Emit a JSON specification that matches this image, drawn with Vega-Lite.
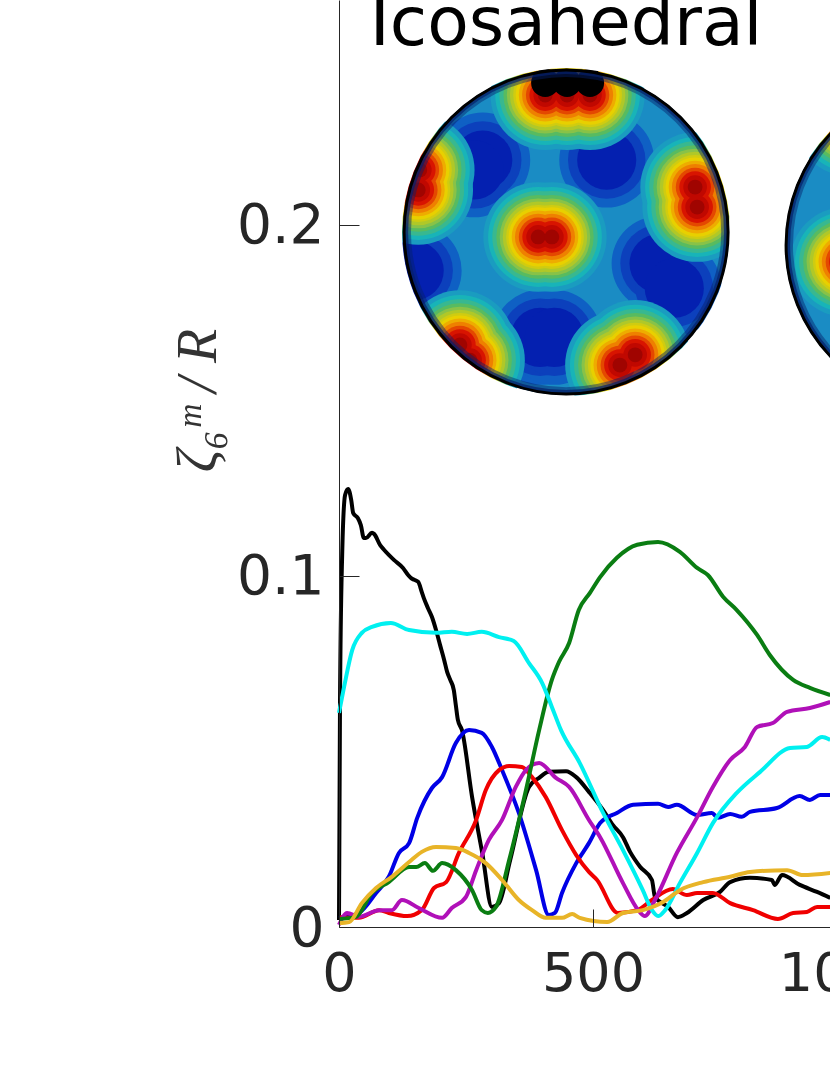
{"$schema":"https://vega.github.io/schema/vega-lite/v6.json","autosize":{"type":"none"},"padding":{"left":339,"top":0,"right":0,"bottom":148},"width":762,"height":927,"background":"white",
"datasets":{
"spheres":[{"sphere":"Icosahedral","t":447,"z":0.198},{"sphere":"second","t":1199,"z":0.1943}],
"low":[{"t":396,"z":0.168},{"t":424,"z":0.168},{"t":283,"z":0.2185},{"t":266,"z":0.2157},{"t":527,"z":0.2185},{"t":630,"z":0.189},{"t":660,"z":0.182},{"t":148,"z":0.187},{"t":1065,"z":0.163}],
"high":[{"t":392,"z":0.1966},{"t":419,"z":0.1966},{"t":701,"z":0.2108},{"t":705,"z":0.2051},{"t":159,"z":0.2157},{"t":156,"z":0.21},{"t":238,"z":0.1658},{"t":258,"z":0.1615},{"t":583,"z":0.163},{"t":553,"z":0.1601},{"t":449,"z":0.237},{"t":406,"z":0.237},{"t":494,"z":0.237},{"t":996,"z":0.1895},{"t":1005,"z":0.2295}],
"cap":[{"t":406,"z":0.2405},{"t":449,"z":0.2405},{"t":494,"z":0.2405}],
"titles":[{"t":447,"z":0.2512,"label":"Icosahedral"}],
"curves":[
{"s":"black","t":0,"z":0.002},{"s":"black","t":2,"z":0.0647},{"s":"black","t":6,"z":0.1046},{"s":"black","t":12,"z":0.1231},{"s":"black","t":18,"z":0.1248},{"s":"black","t":24,"z":0.1217},{"s":"black","t":28,"z":0.1179},{"s":"black","t":37,"z":0.1165},{"s":"black","t":43,"z":0.1145},{"s":"black","t":49,"z":0.1108},{"s":"black","t":53,"z":0.1108},{"s":"black","t":65,"z":0.1123},{"s":"black","t":69,"z":0.112},{"s":"black","t":81,"z":0.1088},{"s":"black","t":89,"z":0.1074},{"s":"black","t":108,"z":0.1046},{"s":"black","t":126,"z":0.1023},{"s":"black","t":136,"z":0.1003},{"s":"black","t":142,"z":0.0994},{"s":"black","t":148,"z":0.0989},{"s":"black","t":156,"z":0.0983},{"s":"black","t":163,"z":0.0954},{"s":"black","t":167,"z":0.0937},{"s":"black","t":175,"z":0.0909},{"s":"black","t":183,"z":0.0883},{"s":"black","t":191,"z":0.0846},{"s":"black","t":199,"z":0.0803},{"s":"black","t":207,"z":0.0761},{"s":"black","t":213,"z":0.0726},{"s":"black","t":219,"z":0.0704},{"s":"black","t":226,"z":0.0675},{"s":"black","t":230,"z":0.0632},{"s":"black","t":234,"z":0.059},{"s":"black","t":242,"z":0.0561},{"s":"black","t":262,"z":0.037},{"s":"black","t":282,"z":0.0211},{"s":"black","t":301,"z":0.0057},{"s":"black","t":315,"z":0.0068},{"s":"black","t":337,"z":0.0191},{"s":"black","t":374,"z":0.0399},{"s":"black","t":394,"z":0.0425},{"s":"black","t":413,"z":0.0442},{"s":"black","t":447,"z":0.0444},{"s":"black","t":467,"z":0.0427},{"s":"black","t":492,"z":0.0385},{"s":"black","t":520,"z":0.0333},{"s":"black","t":539,"z":0.0291},{"s":"black","t":559,"z":0.0256},{"s":"black","t":573,"z":0.0214},{"s":"black","t":593,"z":0.0171},{"s":"black","t":616,"z":0.0134},{"s":"black","t":622,"z":0.0085},{"s":"black","t":648,"z":0.0057},{"s":"black","t":667,"z":0.0028},{"s":"black","t":685,"z":0.004},{"s":"black","t":717,"z":0.0077},{"s":"black","t":750,"z":0.01},{"s":"black","t":770,"z":0.0128},{"s":"black","t":809,"z":0.014},{"s":"black","t":852,"z":0.0134},{"s":"black","t":858,"z":0.012},{"s":"black","t":872,"z":0.0148},{"s":"black","t":907,"z":0.012},{"s":"black","t":941,"z":0.01},{"s":"black","t":967,"z":0.0083},
{"s":"blue","t":0,"z":0.0026},{"s":"blue","t":39,"z":0.004},{"s":"blue","t":73,"z":0.0097},{"s":"blue","t":98,"z":0.0143},{"s":"blue","t":118,"z":0.0211},{"s":"blue","t":138,"z":0.0239},{"s":"blue","t":154,"z":0.0311},{"s":"blue","t":183,"z":0.0396},{"s":"blue","t":203,"z":0.0427},{"s":"blue","t":230,"z":0.0524},{"s":"blue","t":256,"z":0.0561},{"s":"blue","t":281,"z":0.0553},{"s":"blue","t":301,"z":0.0513},{"s":"blue","t":321,"z":0.0447},{"s":"blue","t":354,"z":0.0325},{"s":"blue","t":388,"z":0.0162},{"s":"blue","t":413,"z":0.0034},{"s":"blue","t":425,"z":0.004},{"s":"blue","t":439,"z":0.0097},{"s":"blue","t":467,"z":0.0182},{"s":"blue","t":492,"z":0.0239},{"s":"blue","t":514,"z":0.0296},{"s":"blue","t":547,"z":0.0325},{"s":"blue","t":579,"z":0.0348},{"s":"blue","t":628,"z":0.0351},{"s":"blue","t":648,"z":0.0342},{"s":"blue","t":665,"z":0.0348},{"s":"blue","t":705,"z":0.0319},{"s":"blue","t":734,"z":0.0325},{"s":"blue","t":746,"z":0.0311},{"s":"blue","t":770,"z":0.0322},{"s":"blue","t":793,"z":0.0314},{"s":"blue","t":809,"z":0.0328},{"s":"blue","t":862,"z":0.0339},{"s":"blue","t":907,"z":0.0373},{"s":"blue","t":927,"z":0.0362},{"s":"blue","t":947,"z":0.0376},{"s":"blue","t":967,"z":0.0376},
{"s":"red","t":0,"z":0.0028},{"s":"red","t":39,"z":0.0026},{"s":"red","t":79,"z":0.0048},{"s":"red","t":98,"z":0.004},{"s":"red","t":134,"z":0.0031},{"s":"red","t":163,"z":0.0048},{"s":"red","t":187,"z":0.0111},{"s":"red","t":211,"z":0.0128},{"s":"red","t":236,"z":0.0211},{"s":"red","t":270,"z":0.0305},{"s":"red","t":289,"z":0.039},{"s":"red","t":315,"z":0.0447},{"s":"red","t":335,"z":0.0459},{"s":"red","t":360,"z":0.0456},{"s":"red","t":380,"z":0.0427},{"s":"red","t":407,"z":0.037},{"s":"red","t":439,"z":0.0276},{"s":"red","t":467,"z":0.0205},{"s":"red","t":492,"z":0.0157},{"s":"red","t":508,"z":0.0134},{"s":"red","t":549,"z":0.004},{"s":"red","t":587,"z":0.0048},{"s":"red","t":616,"z":0.0077},{"s":"red","t":657,"z":0.0108},{"s":"red","t":685,"z":0.0091},{"s":"red","t":705,"z":0.0097},{"s":"red","t":736,"z":0.0097},{"s":"red","t":770,"z":0.0068},{"s":"red","t":815,"z":0.0048},{"s":"red","t":864,"z":0.0023},{"s":"red","t":894,"z":0.004},{"s":"red","t":921,"z":0.0043},{"s":"red","t":941,"z":0.0057},{"s":"red","t":967,"z":0.0057},
{"s":"magenta","t":0,"z":0.0006},{"s":"magenta","t":16,"z":0.004},{"s":"magenta","t":39,"z":0.0029},{"s":"magenta","t":79,"z":0.0048},{"s":"magenta","t":104,"z":0.0048},{"s":"magenta","t":124,"z":0.0077},{"s":"magenta","t":157,"z":0.0054},{"s":"magenta","t":203,"z":0.0026},{"s":"magenta","t":222,"z":0.0054},{"s":"magenta","t":250,"z":0.0086},{"s":"magenta","t":270,"z":0.0162},{"s":"magenta","t":295,"z":0.0248},{"s":"magenta","t":321,"z":0.0305},{"s":"magenta","t":348,"z":0.0399},{"s":"magenta","t":368,"z":0.0447},{"s":"magenta","t":394,"z":0.0467},{"s":"magenta","t":427,"z":0.0425},{"s":"magenta","t":453,"z":0.0399},{"s":"magenta","t":492,"z":0.0305},{"s":"magenta","t":514,"z":0.0256},{"s":"magenta","t":559,"z":0.0125},{"s":"magenta","t":589,"z":0.0048},{"s":"magenta","t":602,"z":0.0031},{"s":"magenta","t":622,"z":0.0077},{"s":"magenta","t":665,"z":0.0211},{"s":"magenta","t":705,"z":0.0313},{"s":"magenta","t":736,"z":0.0399},{"s":"magenta","t":770,"z":0.0476},{"s":"magenta","t":799,"z":0.0513},{"s":"magenta","t":823,"z":0.057},{"s":"magenta","t":854,"z":0.0581},{"s":"magenta","t":882,"z":0.0613},{"s":"magenta","t":927,"z":0.0624},{"s":"magenta","t":967,"z":0.0641},
{"s":"green","t":0,"z":0.0023},{"s":"green","t":33,"z":0.0029},{"s":"green","t":65,"z":0.0097},{"s":"green","t":98,"z":0.0128},{"s":"green","t":138,"z":0.0171},{"s":"green","t":152,"z":0.0171},{"s":"green","t":169,"z":0.0182},{"s":"green","t":185,"z":0.016},{"s":"green","t":203,"z":0.0182},{"s":"green","t":230,"z":0.0162},{"s":"green","t":262,"z":0.0105},{"s":"green","t":281,"z":0.0048},{"s":"green","t":293,"z":0.004},{"s":"green","t":309,"z":0.0057},{"s":"green","t":335,"z":0.0191},{"s":"green","t":368,"z":0.039},{"s":"green","t":394,"z":0.0561},{"s":"green","t":419,"z":0.0704},{"s":"green","t":433,"z":0.0755},{"s":"green","t":453,"z":0.0809},{"s":"green","t":472,"z":0.0903},{"s":"green","t":494,"z":0.0952},{"s":"green","t":514,"z":0.0997},{"s":"green","t":547,"z":0.1052},{"s":"green","t":587,"z":0.1089},{"s":"green","t":628,"z":0.1097},{"s":"green","t":671,"z":0.1069},{"s":"green","t":705,"z":0.1023},{"s":"green","t":726,"z":0.1003},{"s":"green","t":756,"z":0.0941},{"s":"green","t":783,"z":0.0903},{"s":"green","t":823,"z":0.0832},{"s":"green","t":848,"z":0.0775},{"s":"green","t":894,"z":0.0704},{"s":"green","t":927,"z":0.0681},{"s":"green","t":967,"z":0.0661},
{"s":"cyan","t":0,"z":0.061},{"s":"cyan","t":10,"z":0.0684},{"s":"cyan","t":26,"z":0.0789},{"s":"cyan","t":45,"z":0.0838},{"s":"cyan","t":65,"z":0.0855},{"s":"cyan","t":102,"z":0.0866},{"s":"cyan","t":138,"z":0.0846},{"s":"cyan","t":191,"z":0.0838},{"s":"cyan","t":222,"z":0.0841},{"s":"cyan","t":252,"z":0.0835},{"s":"cyan","t":281,"z":0.0841},{"s":"cyan","t":315,"z":0.0826},{"s":"cyan","t":344,"z":0.0815},{"s":"cyan","t":374,"z":0.0752},{"s":"cyan","t":400,"z":0.0695},{"s":"cyan","t":419,"z":0.0627},{"s":"cyan","t":437,"z":0.0561},{"s":"cyan","t":474,"z":0.0467},{"s":"cyan","t":520,"z":0.0325},{"s":"cyan","t":559,"z":0.0219},{"s":"cyan","t":598,"z":0.0105},{"s":"cyan","t":616,"z":0.0048},{"s":"cyan","t":628,"z":0.0031},{"s":"cyan","t":642,"z":0.0048},{"s":"cyan","t":671,"z":0.0125},{"s":"cyan","t":705,"z":0.0211},{"s":"cyan","t":736,"z":0.0296},{"s":"cyan","t":783,"z":0.0382},{"s":"cyan","t":829,"z":0.0442},{"s":"cyan","t":888,"z":0.051},{"s":"cyan","t":921,"z":0.0513},{"s":"cyan","t":951,"z":0.0541},{"s":"cyan","t":967,"z":0.0533},
{"s":"gold","t":0,"z":0.0011},{"s":"gold","t":20,"z":0.0014},{"s":"gold","t":45,"z":0.0068},{"s":"gold","t":73,"z":0.0111},{"s":"gold","t":104,"z":0.0143},{"s":"gold","t":138,"z":0.0185},{"s":"gold","t":163,"z":0.0214},{"s":"gold","t":191,"z":0.0228},{"s":"gold","t":230,"z":0.0225},{"s":"gold","t":256,"z":0.0211},{"s":"gold","t":289,"z":0.0182},{"s":"gold","t":321,"z":0.0134},{"s":"gold","t":354,"z":0.0077},{"s":"gold","t":380,"z":0.0048},{"s":"gold","t":407,"z":0.0026},{"s":"gold","t":439,"z":0.0026},{"s":"gold","t":459,"z":0.0037},{"s":"gold","t":474,"z":0.0026},{"s":"gold","t":528,"z":0.0014},{"s":"gold","t":559,"z":0.004},{"s":"gold","t":598,"z":0.0048},{"s":"gold","t":638,"z":0.0071},{"s":"gold","t":671,"z":0.0105},{"s":"gold","t":717,"z":0.0128},{"s":"gold","t":770,"z":0.0143},{"s":"gold","t":809,"z":0.0157},{"s":"gold","t":882,"z":0.0162},{"s":"gold","t":913,"z":0.0148},{"s":"gold","t":967,"z":0.0154}
]},
"encoding":{"x":{"field":"t","type":"quantitative","scale":{"domain":[0,1500],"nice":false},"axis":{"values":[0,500,1000,1500],"labelExpr":"format(datum.value,'d')","title":null,"grid":false,"zindex":1,"tickSize":-18,"tickColor":"#262626","domainColor":"#262626","labelFontSize":54,"labelFont":"DejaVu Sans","labelColor":"#262626","labelPadding":38,"labelFlush":false,"labelOverlap":false}},
"y":{"field":"z","type":"quantitative","scale":{"domain":[0,0.2641],"nice":false},"axis":{"values":[0,0.1,0.2],"labelExpr":"datum.value==0?'0':format(datum.value,'.1f')","title":"ζ₆ᵐ / R","titleFont":"Liberation Serif","titleFontStyle":"italic","titleFontWeight":"normal","titleFontSize":56,"titleColor":"#333333","titleX":-124,"titleY":400,"titleAngle":-90,"titleBaseline":"alphabetic","grid":false,"zindex":1,"tickSize":-20,"tickColor":"#262626","domainColor":"#262626","labelFontSize":55,"labelFont":"DejaVu Sans","labelColor":"#262626","labelPadding":35,"labelOffset":1,"labelOverlap":false}}},
"layer":[
{"data":{"name":"spheres"},"mark":{"type":"point","filled":true,"size":106276,"color":"#1a8cc4","opacity":1}},
{"data":{"name":"low"},"mark":{"type":"point","filled":true,"size":9000,"color":"#0f60c4","opacity":1}},
{"data":{"name":"low"},"mark":{"type":"point","filled":true,"size":6000,"color":"#0c40bc","opacity":1}},
{"data":{"name":"low"},"mark":{"type":"point","filled":true,"size":3500,"color":"#0420b0","opacity":1}},
{"data":{"name":"high"},"mark":{"type":"point","filled":true,"size":12000,"color":"#1a9cc0","opacity":1}},
{"data":{"name":"high"},"mark":{"type":"point","filled":true,"size":10000,"color":"#18b4b8","opacity":1}},
{"data":{"name":"high"},"mark":{"type":"point","filled":true,"size":8400,"color":"#38b890","opacity":1}},
{"data":{"name":"high"},"mark":{"type":"point","filled":true,"size":7000,"color":"#58bb60","opacity":1}},
{"data":{"name":"high"},"mark":{"type":"point","filled":true,"size":5900,"color":"#88c248","opacity":1}},
{"data":{"name":"high"},"mark":{"type":"point","filled":true,"size":5000,"color":"#b0c828","opacity":1}},
{"data":{"name":"high"},"mark":{"type":"point","filled":true,"size":4100,"color":"#d0cc10","opacity":1}},
{"data":{"name":"high"},"mark":{"type":"point","filled":true,"size":3500,"color":"#e8d000","opacity":1}},
{"data":{"name":"high"},"mark":{"type":"point","filled":true,"size":2800,"color":"#eeac00","opacity":1}},
{"data":{"name":"high"},"mark":{"type":"point","filled":true,"size":2150,"color":"#ee8000","opacity":1}},
{"data":{"name":"high"},"mark":{"type":"point","filled":true,"size":1500,"color":"#e44800","opacity":1}},
{"data":{"name":"high"},"mark":{"type":"point","filled":true,"size":1000,"color":"#d81400","opacity":1}},
{"data":{"name":"high"},"mark":{"type":"point","filled":true,"size":560,"color":"#c00800","opacity":1}},
{"data":{"name":"high"},"mark":{"type":"point","filled":true,"size":220,"color":"#a00400","opacity":1}},
{"data":{"name":"cap"},"mark":{"type":"point","filled":true,"size":800,"color":"#000000","opacity":1}},
{"data":{"name":"spheres"},"mark":{"type":"point","filled":false,"size":100000,"stroke":"#06206a","strokeWidth":6,"opacity":0.45}},
{"data":{"name":"spheres"},"mark":{"type":"point","filled":false,"size":103000,"stroke":"#06206a","strokeWidth":5,"opacity":0.7}},
{"data":{"name":"spheres"},"mark":{"type":"point","filled":false,"size":147456,"stroke":"#ffffff","strokeWidth":56,"opacity":1}},
{"data":{"name":"spheres"},"mark":{"type":"point","filled":false,"size":105000,"stroke":"#000000","strokeWidth":3,"opacity":1}},
{"data":{"name":"curves"},"mark":{"type":"line","strokeWidth":4,"strokeJoin":"round","interpolate":"monotone"},"encoding":{"color":{"field":"s","type":"nominal","legend":null,"sort":null,"scale":{"domain":["black","blue","red","magenta","green","cyan","gold"],"range":["#000000","#0000e6","#f00000","#b010b8","#0a7d12","#00f0f0","#e8b428"]}}}},
{"data":{"name":"titles"},"mark":{"type":"text","font":"DejaVu Sans","fontSize":68,"color":"#000000","baseline":"alphabetic","align":"center"},"encoding":{"text":{"field":"label"}}}
],
"config":{"view":{"stroke":null}}}
